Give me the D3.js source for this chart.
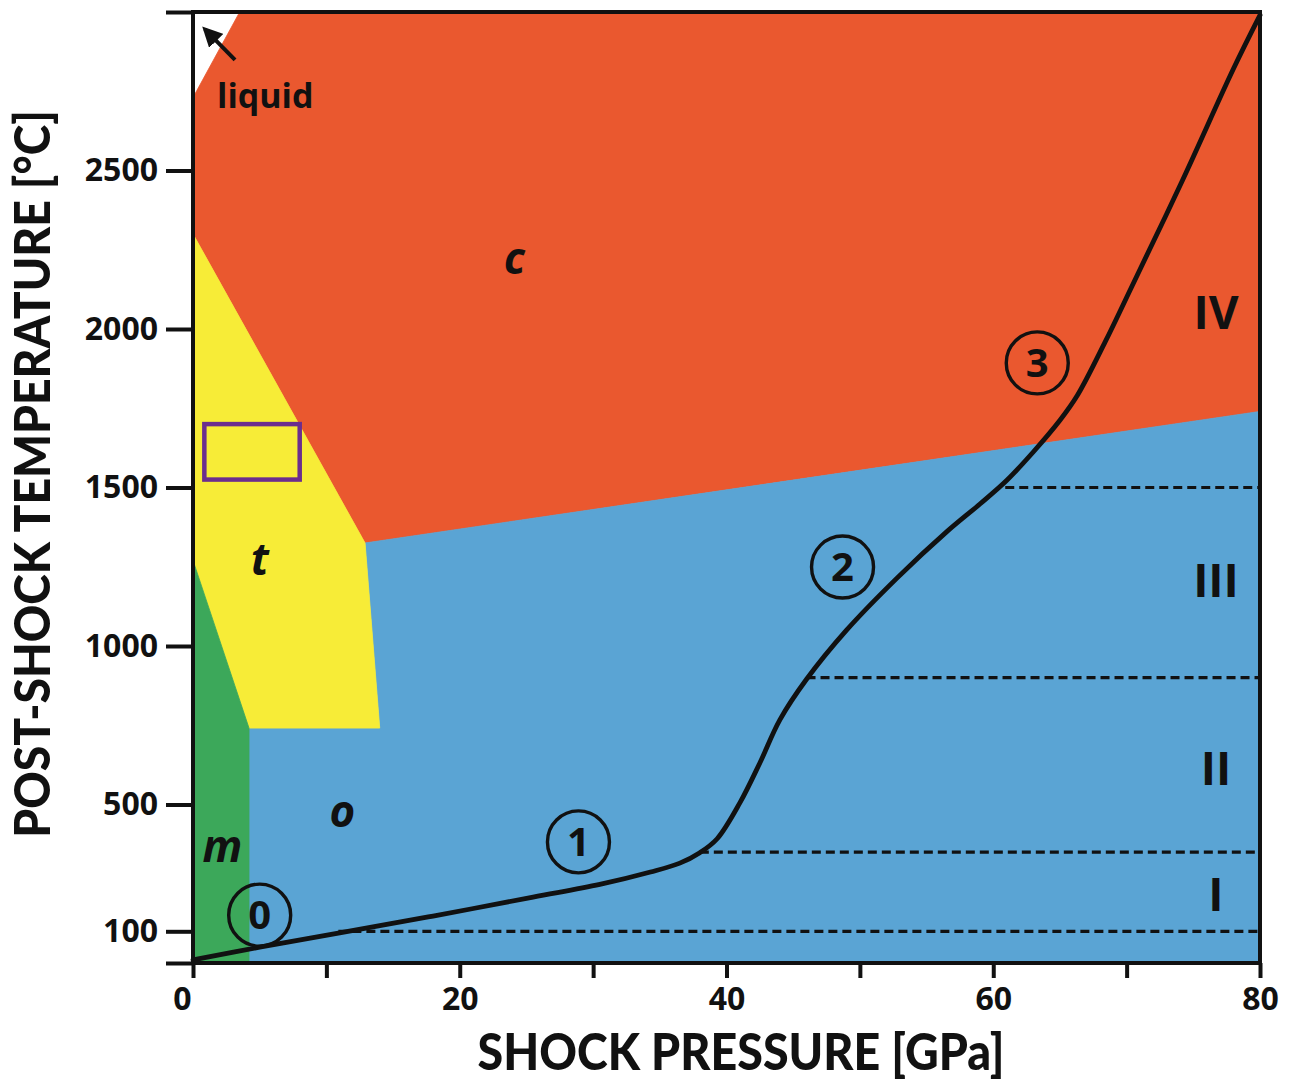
<!DOCTYPE html>
<html>
<head>
<meta charset="utf-8">
<script src="https://cdn.jsdelivr.net/npm/d3@7"></script>
<style>
  body { margin: 0; background: #fff; }
  svg text { font-family: "Open Sans", "Noto Sans", sans-serif; font-weight: 700; fill: #111; }
  svg text.title { font-family: Lato, "Liberation Sans", sans-serif; font-weight: 900; }
</style>
</head>
<body>
<svg id="chart" width="1292" height="1082"></svg>
<script>
// PHASE FIELDS (pressure GPa, temperature °C)
var cubicField = [[3.5, 3000], [80, 3000], [80, 1740], [12.9, 1325], [0, 2300], [0, 2730]];
var tetragonalField = [[0, 2300], [12.9, 1325], [14, 741], [4.2, 741], [0, 1270]];
var monoclinicField = [[0, 1270], [4.2, 741], [4.2, 0], [0, 0]];
var orthorhombicField = [[12.9, 1325], [80, 1740], [80, 0], [4.2, 0], [4.2, 741], [14, 741]];

// post-shock temperature curve
var curvePressure = [0, 5, 11, 18, 25.5, 30.5, 34.3, 36.5, 38, 39.3, 41, 42.5, 44, 46, 49, 52.8, 56.5, 59, 61, 63, 65, 66.3, 68.4, 70.4, 74.2, 78, 80];
var curveTemp = [10, 50, 95, 148, 208, 248, 287, 315, 348, 392, 505, 631, 767, 895, 1050, 1215, 1360, 1448, 1522, 1612, 1712, 1790, 1960, 2135, 2470, 2820, 2990];

// shock stage limits
var stageTemps = [100, 350, 900, 1500];
var stageStartP = [10.9, 38, 46, 60.9];
var stageNames = ["I", "II", "III", "IV"];
var stageLabelT = [218, 615, 1208, 2054];

// numbered points on the curve
var markNames = ["0", "1", "2", "3"];
var markP = [5.0, 28.9, 48.7, 63.3];
var markT = [151, 382, 1249, 1893];

// phase labels
var phaseNames = ["c", "t", "o", "m"];
var phaseP = [24.1, 5.0, 11.2, 2.2];
var phaseT = [2211, 1262, 467, 356];

// axes
var xTicks = [0, 10, 20, 30, 40, 50, 60, 70, 80];
var yTicks = [0, 100, 500, 1000, 1500, 2000, 2500, 3000];

var svg = d3.select("#chart");

var x = d3.scaleLinear().domain([0, 80]).range([193, 1260]);
var y = d3.scaleLinear().domain([0, 3000]).range([963, 12]);

var poly = function(pts) {
	return "M" + pts.map(function(d) { return x(d[0]) + "," + y(d[1]); }).join("L") + "Z";
};

// PHASE FIELDS
var fields = [
	{pts: cubicField, col: "#EA582F"},
	{pts: orthorhombicField, col: "#5AA4D4"},
	{pts: tetragonalField, col: "#F7EC37"},
	{pts: monoclinicField, col: "#3CA85A"}
];
svg.selectAll("path.field")
	.data(fields)
	.enter()
	.append("path")
	.attr("class", "field")
	.attr("d", function(d) { return poly(d.pts); })
	.attr("fill", function(d) { return d.col; })
	.attr("stroke", function(d) { return d.col; })
	.attr("stroke-width", 0.8);

// purple box
svg.append("rect")
	.attr("x", x(0.85))
	.attr("y", y(1700))
	.attr("width", x(8.0) - x(0.85))
	.attr("height", y(1525) - y(1700))
	.attr("fill", "none")
	.attr("stroke", "#6B2D8E")
	.attr("stroke-width", 4.5);

// STAGE LINES
svg.selectAll("line.stage")
	.data(stageTemps)
	.enter()
	.append("line")
	.attr("class", "stage")
	.attr("x1", function(d, i) { return x(stageStartP[i]); })
	.attr("x2", x(80))
	.attr("y1", function(d) { return y(d); })
	.attr("y2", function(d) { return y(d); })
	.attr("stroke", "#111")
	.attr("stroke-width", 3.2)
	.attr("stroke-dasharray", "9,5");

// CURVE
var line = d3.line()
	.x(function(d, i) { return x(curvePressure[i]); })
	.y(function(d, i) { return y(curveTemp[i]); })
	.curve(d3.curveCatmullRom.alpha(0.5));
svg.append("path")
	.attr("d", line(curveTemp))
	.attr("fill", "none")
	.attr("stroke", "#111")
	.attr("stroke-width", 4.8)
	.attr("stroke-linecap", "round");

// numbered circles
var marks = svg.selectAll("g.mark")
	.data(markNames)
	.enter()
	.append("g")
	.attr("class", "mark")
	.attr("transform", function(d, i) { return "translate(" + x(markP[i]) + "," + y(markT[i]) + ")"; });
marks.append("circle")
	.attr("r", 31)
	.attr("fill", "none")
	.attr("stroke", "#111")
	.attr("stroke-width", 3.4);
marks.append("text")
	.attr("text-anchor", "middle")
	.attr("y", 14)
	.style("font-size", "40px")
	.text(function(d) { return d; });

// phase labels
svg.selectAll("text.phase")
	.data(phaseNames)
	.enter()
	.append("text")
	.attr("class", "phase")
	.attr("x", function(d, i) { return x(phaseP[i]); })
	.attr("y", function(d, i) { return y(phaseT[i]) + 12; })
	.attr("text-anchor", "middle")
	.style("font-size", "44px")
	.style("font-style", "italic")
	.text(function(d) { return d; });

// stage labels
svg.selectAll("text.stagelab")
	.data(stageNames)
	.enter()
	.append("text")
	.attr("class", "stagelab")
	.attr("x", x(76.7))
	.attr("y", function(d, i) { return y(stageLabelT[i]) + 17; })
	.attr("text-anchor", "middle")
	.style("font-size", "46px")
	.text(function(d) { return d; });

// liquid arrow
svg.append("defs").append("marker")
	.attr("id", "head")
	.attr("viewBox", "0 0 10 10")
	.attr("refX", 8).attr("refY", 5)
	.attr("markerWidth", 5).attr("markerHeight", 5)
	.attr("orient", "auto")
	.append("path")
	.attr("d", "M0,0L10,5L0,10Z")
	.attr("fill", "#111");
svg.append("line")
	.attr("x1", x(3.15)).attr("y1", y(2849))
	.attr("x2", x(0.9)).attr("y2", y(2945))
	.attr("stroke", "#111")
	.attr("stroke-width", 4)
	.attr("marker-end", "url(#head)");
svg.append("text")
	.attr("x", x(1.8))
	.attr("y", y(2697))
	.style("font-size", "34px")
	.text("liquid");

// AXES
var xAxis = svg.append("g")
	.attr("transform", "translate(0," + y(0) + ")")
	.call(d3.axisBottom(x).tickValues(xTicks).tickSize(15).tickPadding(9)
		.tickFormat(function(d) { return d % 20 === 0 ? d : ""; }));
var yAxis = svg.append("g")
	.attr("transform", "translate(" + x(0) + ",0)")
	.call(d3.axisLeft(y).tickValues(yTicks).tickSize(27).tickPadding(8)
		.tickFormat(function(d) { return (d === 0 || d === 3000) ? "" : d; }));
[xAxis, yAxis].forEach(function(a) {
	a.select(".domain").remove();
	a.selectAll("line").attr("stroke", "#111").attr("stroke-width", 4);
	a.selectAll("text").style("font-size", "32px").attr("fill", "#111")
		.style("font-family", "'Open Sans', sans-serif").style("font-weight", 700);
});
xAxis.selectAll(".tick text").filter(function(d) { return d === 0; }).attr("dx", -11);

// frame
svg.append("rect")
	.attr("x", x(0)).attr("y", y(3000))
	.attr("width", x(80) - x(0)).attr("height", y(0) - y(3000))
	.attr("fill", "none")
	.attr("stroke", "#111")
	.attr("stroke-width", 4);

// AXIS TITLES (squeezed horizontally to the width of the original lettering)
var xTitle = svg.append("g").attr("transform", "translate(741,1070)");
var xt = xTitle.append("text")
	.attr("class", "title")
	.attr("text-anchor", "middle")
	.style("font-size", "52px")
	.text("SHOCK PRESSURE [GPa]");
xt.attr("transform", "scale(" + Math.min(1, 527 / xt.node().getComputedTextLength()) + ",1)");

var yTitle = svg.append("g").attr("transform", "translate(50,474) rotate(-90)");
var yt = yTitle.append("text")
	.attr("class", "title")
	.attr("text-anchor", "middle")
	.style("font-size", "50px")
	.text("POST-SHOCK TEMPERATURE [°C]");
yt.attr("transform", "scale(" + Math.min(1, 728 / yt.node().getComputedTextLength()) + ",1)");
</script>
</body>
</html>
